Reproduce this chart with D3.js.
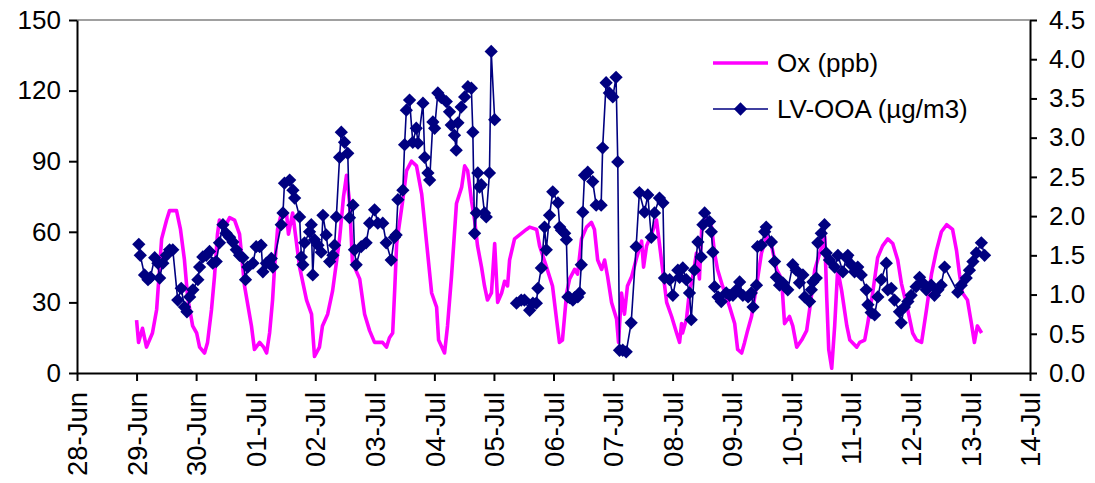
<!DOCTYPE html>
<html>
<head>
<meta charset="utf-8">
<script src="https://cdn.jsdelivr.net/npm/d3@7"></script>
<style>
  body { margin: 0; background: #fff; }
  text { font-family: Arial, "Liberation Sans", sans-serif; fill: #000; }
</style>
</head>
<body>
<div id="chart"></div>
<script>
// DATA (hours since 29-Jun 00:00)
const oxHours = [
  0,0.8,2.4,4.0,6.4,8.1,9.3,10.1,12.1,13.3,
  16.1,17.7,19.3,20.6,22.6,24.2,25.4,27.4,28.6,30.2,
  31.4,32.6,33.4,35.5,37.5,39.5,41.5,43.5,46.3,47.5,
  49.6,51.2,52.4,53.6,54.8,55.6,56.8,58.4,60.4,61.2,
  62.9,65.7,68.5,70.5,71.7,73.7,74.9,77.0,79.0,81.8,
  83.4,84.6,85.8,87.0,89.9,91.9,93.9,95.9,99.1,100.7,
  101.9,103.2,104.0,104.8,107.2,108.8,110.8,112.8,114.9,116.9,
  118.9,120.9,121.7,124.1,125.3,126.9,128.9,131.0,132.2,133.4,
  135.0,136.2,137.4,139.0,140.2,141.4,143.0,144.3,145.5,147.1,
  148.3,149.5,150.3,152.3,157.1,158.4,161.2,162.4,165.2,167.6,
  169.2,170.4,171.6,173.3,174.5,176.5,177.7,179.3,181.3,183.3,
  184.5,185.8,187.4,188.6,189.8,191.4,193.4,194.2,195.4,196.6,
  197.8,199.5,201.5,203.5,204.3,205.5,207.5,209.5,211.5,213.6,
  215.6,217.6,218.8,219.6,220.0,221.6,222.8,224.0,225.6,226.8,
  227.7,229.7,231.7,232.9,234.1,236.1,239.0,241.0,242.2,243.8,
  245.0,246.2,247.8,249.8,251.8,253.9,255.9,257.9,259.9,261.1,
  263.1,264.4,266.0,268.0,270.0,271.2,273.3,275.3,277.3,278.1,
  278.9,280.1,281.3,282.5,284.1,286.2,287.4,290.2,291.4,293.4,
  294.6,296.6,298.6,300.6,302.7,304.7,306.7,308.2,310.7,312.7,
  314.3,316.3,318.3,320.3,322.3,324.3,326.4,328.8,330.4,331.6,
  332.8,334.8,336.4,337.6,338.8,340.5
];
const oxValues = [
  22.5,13,19,11,17,27,45,57,65,69,
  69,61,48,32,20,17,11,8.5,13,27,
  41,59,65,62,66,65,59,37,20,10,
  13,11,8.5,17,31,45,61,68,68,59,
  68,45,31,25,7,11,20,25,35,57,
  75,84,73,47,40,25,18,13,13,11,
  15,17,35,55,73,86,90,88,76,55,
  34,28,14,8.5,20,41,72,79,88,86,
  73,65,54,45,37,31,34,55,30,34,
  39,37,48,57,61,62,61,54,45,37,
  23,13,14,34,40,44,42,57,62,64,
  61,48,44,48,41,30,23,13,34,25,
  37,41,49,56,45,54,59,65,48,30,
  24,17,13,21,17,23,35,40,51,40,
  61,66,62,51,44,37,28,21,10,8.5,
  13,18,24,37,51,58,54,44,40,21,
  24,20,11,14,18,27,44,51,58,32,
  10,2,20,44,35,20,14,11,13,14,
  21,34,49,54,57,55,48,38,27,17,
  14,13,27,42,52,60,63,61,52,42,
  34,31,21,13,20,17
];
const lvHours = [
  0.9,1.5,3.2,4.6,5.6,7.3,8.6,9.3,10.6,12.0,
  13.3,14.6,16.6,18.0,19.3,20.3,21.4,22.7,24.7,25.4,
  26.7,28.1,29.4,30.7,32.1,33.4,34.8,36.1,37.5,38.8,
  40.2,41.5,42.8,43.9,44.8,46.9,48.2,49.6,50.2,50.9,
  52.3,54.3,54.9,58.3,59.0,59.6,61.7,63.0,63.7,65.7,
  66.4,67.0,67.7,69.7,70.4,71.0,71.7,73.1,74.4,75.1,
  76.4,77.8,79.1,79.8,80.5,81.8,82.5,83.8,85.1,85.8,
  87.2,87.8,88.5,90.5,92.5,93.9,95.9,97.2,99.2,100.6,
  102.6,103.9,104.6,105.3,107.3,108.0,108.7,110.0,111.3,112.7,
  113.4,115.4,116.1,117.4,118.1,119.4,120.1,121.4,122.8,124.8,
  126.1,126.8,128.1,128.8,129.5,130.8,132.2,133.5,134.9,135.5,
  136.2,136.9,137.5,138.2,138.9,140.2,140.9,142.2,142.9,144.3,
  148.0,153.1,155.0,156.3,158.4,159.7,161.1,161.7,163.1,164.4,
  165.1,166.4,167.7,169.8,170.5,171.2,172.5,173.2,173.8,174.5,
  175.8,176.5,177.8,178.5,179.2,179.8,180.5,181.8,183.8,185.2,
  187.2,187.8,189.2,190.5,191.9,193.2,193.9,194.6,195.9,197.3,
  199.3,201.3,202.6,204.7,206.0,207.4,208.7,210.7,212.1,212.7,
  214.8,216.1,218.1,218.8,220.1,221.5,222.8,223.5,224.8,226.2,
  227.5,228.2,228.9,230.9,231.6,232.2,232.9,234.3,235.6,237.6,
  239.0,240.3,241.7,243.0,244.3,246.4,247.7,248.4,249.8,250.2,
  251.7,253.1,253.7,255.8,257.1,257.8,259.1,260.4,262.4,264.4,
  265.8,267.1,268.5,269.2,271.2,271.9,272.5,273.9,274.5,275.9,
  277.2,277.9,279.2,281.3,282.6,284.6,286.0,286.6,288.0,289.3,
  290.6,292.0,294.0,294.7,296.0,297.4,298.7,300.1,302.1,302.7,
  304.1,305.4,307.4,308.1,309.4,310.8,312.1,314.1,315.5,316.8,
  318.2,320.2,321.5,322.9,324.2,325.6,330.9,332.3,334.3,335.6,
  337.0,338.4,340.4,341.7
];
const lvValues = [
  1.64,1.50,1.25,1.19,1.22,1.47,1.40,1.21,1.40,1.50,
  1.57,1.57,0.93,1.08,0.84,0.78,0.97,1.06,1.19,1.35,
  1.48,1.50,1.55,1.40,1.42,1.66,1.89,1.78,1.73,1.67,
  1.57,1.50,1.47,1.19,1.35,1.40,1.61,1.61,1.63,1.29,
  1.40,1.46,1.35,1.89,2.04,2.42,2.46,2.33,2.23,1.99,
  1.48,1.38,1.66,1.80,1.89,1.25,1.70,1.63,1.54,2.01,
  1.76,1.42,1.50,1.63,1.99,2.75,3.07,2.94,2.80,1.98,
  2.14,1.57,1.38,1.61,1.66,1.91,2.08,1.91,1.91,1.66,
  1.44,1.73,1.76,2.21,2.33,2.91,3.35,3.48,2.94,3.12,
  2.93,3.44,2.75,2.55,2.46,3.20,3.12,3.57,3.51,3.46,
  3.33,3.16,3.03,2.84,3.19,3.39,3.52,3.65,3.63,3.07,
  1.78,2.04,2.55,2.37,2.40,2.04,1.99,2.55,4.10,3.23,
  null,0.89,0.93,0.93,0.80,0.89,0.89,1.08,1.34,1.86,
  1.57,2.01,2.31,2.17,1.86,1.82,1.78,1.70,0.97,0.96,
  0.93,0.96,0.97,1.02,1.38,2.05,2.52,2.56,2.44,2.14,
  2.14,2.87,3.70,3.57,3.52,3.77,2.69,0.29,0.29,0.27,
  0.64,1.61,2.30,2.05,2.27,1.73,2.04,2.23,2.17,1.21,
  1.19,0.99,1.31,1.22,1.34,1.19,1.02,0.68,1.31,1.67,
  1.48,1.89,2.04,1.93,1.80,1.54,1.10,0.97,0.91,1.02,
  0.99,0.99,1.06,1.16,0.99,0.97,1.02,0.84,1.12,1.61,
  1.63,1.80,1.86,1.67,1.42,1.22,1.12,1.15,1.06,1.38,
  1.31,1.15,1.25,0.97,0.91,1.06,1.16,1.21,1.66,1.78,
  1.89,1.53,1.44,1.35,1.50,1.29,1.47,1.50,1.38,1.29,
  1.35,1.25,1.06,0.87,0.77,0.74,0.97,1.19,1.40,1.06,
  1.08,0.93,0.78,0.64,0.84,0.91,0.99,1.10,1.22,1.15,
  1.06,1.12,0.99,1.06,1.12,1.35,1.03,1.12,1.21,1.31,
  1.42,1.53,1.66,1.50
];
const leftTicks = [0, 30, 60, 90, 120, 150];
const rightTicks = [0, 0.5, 1, 1.5, 2, 2.5, 3, 3.5, 4, 4.5];
const seriesNames = ['Ox (ppb)', 'LV-OOA (\u00b5g/m3)'];
const startDate = new Date(2008, 5, 29);
const xStart = new Date(2008, 5, 28);
const xEnd = new Date(2008, 6, 14);

// BUILD ROWS
const toDate = h => new Date(startDate.getTime() + h * 3600e3);
const ox = oxHours.map((h, i) => ({ t: toDate(h), v: oxValues[i] }));
const lv = lvHours.map((h, i) => ({ t: toDate(h), v: lvValues[i] }));

// DIMENSIONS
const width = 1095, height = 483;
const margin = { left: 77, right: 65, top: 20, bottom: 110 };

const svg = d3.select('#chart').append('svg')
  .attr('width', width)
  .attr('height', height);

// SCALES
const x = d3.scaleTime().domain([xStart, xEnd]).range([margin.left, width - margin.right]);
const yL = d3.scaleLinear().domain([0, 150]).range([height - margin.bottom, margin.top]);
const yR = d3.scaleLinear().domain([0, 4.5]).range([height - margin.bottom, margin.top]);

// TOP BORDER
svg.append('line')
  .attr('x1', margin.left).attr('x2', width - margin.right)
  .attr('y1', margin.top).attr('y2', margin.top)
  .attr('stroke', '#808080').attr('stroke-width', 1.5);

// AXES
const styleAxis = g => {
  g.select('.domain').attr('stroke', '#000').attr('stroke-width', 2);
  g.selectAll('.tick line').attr('stroke', '#000').attr('stroke-width', 2);
  g.selectAll('.tick text').style('font-size', '26px');
};

svg.append('g')
  .attr('transform', `translate(${margin.left},0)`)
  .call(d3.axisLeft(yL).tickValues(leftTicks).tickSize(8).tickSizeOuter(0).tickPadding(8))
  .call(styleAxis);

svg.append('g')
  .attr('transform', `translate(${width - margin.right},0)`)
  .call(d3.axisRight(yR).tickValues(rightTicks).tickSize(7).tickSizeOuter(0).tickPadding(12)
    .tickFormat(d3.format('.1f')))
  .call(styleAxis);

const xAxis = svg.append('g')
  .attr('transform', `translate(0,${height - margin.bottom})`)
  .call(d3.axisBottom(x).ticks(d3.timeDay.every(1)).tickSize(8).tickSizeOuter(0)
    .tickFormat(d3.timeFormat('%d-%b')))
  .call(styleAxis);

xAxis.selectAll('.tick text')
  .attr('transform', 'rotate(-90)')
  .attr('text-anchor', 'end')
  .attr('x', -19)
  .attr('y', 0)
  .attr('dy', '0.35em')
  .style('font-size', '27.5px');

// OX LINE
svg.append('path')
  .datum(ox)
  .attr('fill', 'none')
  .attr('stroke', '#ff00ff')
  .attr('stroke-width', 3.6)
  .attr('stroke-linejoin', 'round')
  .attr('d', d3.line().x(d => x(d.t)).y(d => yL(d.v)));

// LV-OOA LINE + MARKERS
svg.append('path')
  .datum(lv)
  .attr('fill', 'none')
  .attr('stroke', '#000080')
  .attr('stroke-width', 1.6)
  .attr('d', d3.line().defined(d => d.v !== null).x(d => x(d.t)).y(d => yR(d.v)));

const diamond = d3.symbol().type(d3.symbolSquare).size(88);

svg.append('g')
  .selectAll('path')
  .data(lv.filter(d => d.v !== null))
  .join('path')
  .attr('d', diamond)
  .attr('fill', '#000080')
  .attr('transform', d => `translate(${x(d.t)},${yR(d.v)}) rotate(45)`);

// LEGEND
const legend = svg.append('g').attr('transform', 'translate(713,63)');

legend.append('line')
  .attr('x1', 0).attr('x2', 55).attr('y1', 0).attr('y2', 0)
  .attr('stroke', '#ff00ff').attr('stroke-width', 3.6);
legend.append('line')
  .attr('x1', 0).attr('x2', 55).attr('y1', 46).attr('y2', 46)
  .attr('stroke', '#000080').attr('stroke-width', 1.6);
legend.append('path')
  .attr('d', diamond)
  .attr('fill', '#000080')
  .attr('transform', 'translate(27.5,46) rotate(45)');

legend.selectAll('text')
  .data(seriesNames)
  .join('text')
  .attr('x', 64)
  .attr('y', (d, i) => i * 46)
  .attr('dy', '0.35em')
  .style('font-size', '26px')
  .text(d => d);
</script>
</body>
</html>
